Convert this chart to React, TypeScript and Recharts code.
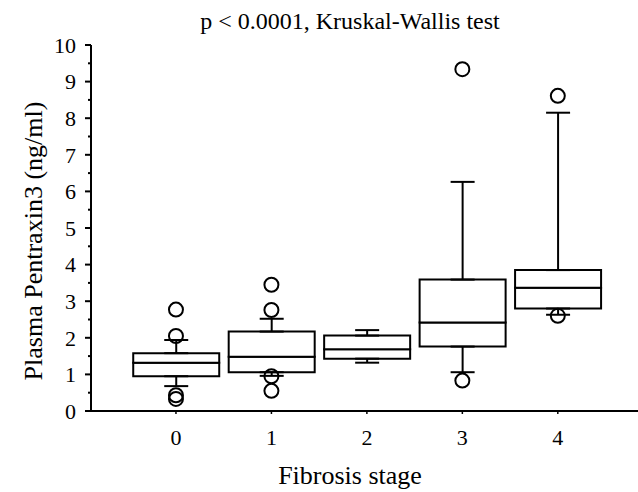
import { ComposedChart, Bar, ErrorBar, Scatter, XAxis, YAxis } from "recharts";

const stages = [0, 1, 2, 3, 4];
const mins = [0.68, 0.96, 1.32, 1.06, 2.63];
const q1s = [0.95, 1.06, 1.43, 1.76, 2.8];
const medians = [1.32, 1.48, 1.69, 2.42, 3.37];
const q3s = [1.58, 2.17, 2.06, 3.59, 3.85];
const maxs = [1.94, 2.52, 2.21, 6.26, 8.15];

const outlierStages = [0, 0, 0, 0, 1, 1, 1, 1, 3, 3, 4, 4];
const outlierValues = [2.77, 2.05, 0.43, 0.33, 3.45, 2.76, 0.95, 0.55, 9.34, 0.83, 8.61, 2.6];

const xTicks = [0, 1, 2, 3, 4];
const yTicks = [0, 0.5, 1, 1.5, 2, 2.5, 3, 3.5, 4, 4.5, 5, 5.5, 6, 6.5, 7, 7.5, 8, 8.5, 9, 9.5, 10];

const FONT = "'Liberation Serif', 'Times New Roman', serif";
const TICK_LEN = 6;
const TICK_GAP = 9;

const boxData = stages.map((s, i) => ({
  stage: s,
  base: q1s[i],
  lower: medians[i] - q1s[i],
  upper: q3s[i] - medians[i],
  lowWhisker: [q1s[i] - mins[i], 0],
  highWhisker: [0, maxs[i] - q3s[i]],
}));

const outliers = outlierStages.map((s, i) => ({ stage: s, value: outlierValues[i] }));

const YTick = (props: any) => {
  const { x, y, payload } = props;
  const v = payload.value;
  const major = Number.isInteger(v);
  const axisX = x + TICK_GAP + TICK_LEN;
  return (
    <g>
      <line x1={axisX - (major ? TICK_LEN : 3)} x2={axisX} y1={y} y2={y} stroke="#000" strokeWidth={2} />
      {major && (
        <text x={x} y={y} dy="0.35em" textAnchor="end" fontFamily={FONT} fontSize={22} fill="#000">
          {v}
        </text>
      )}
    </g>
  );
};

const Circle = (props: any) => (
  <circle cx={props.cx} cy={props.cy} r={7} fill="none" stroke="#000" strokeWidth={2} />
);

export default function App() {
  return (
    <div style={{ position: "absolute", left: 0, top: 0, background: "#fff" }}>
      <ComposedChart
        width={638}
        height={492}
        data={boxData}
        margin={{ top: 45, right: 0, bottom: 0, left: 0 }}
      >
        <XAxis
          type="number"
          dataKey="stage"
          domain={[-0.89, 4.84]}
          allowDataOverflow
          ticks={xTicks}
          interval={0}
          height={81}
          tickSize={3}
          tickMargin={15}
          axisLine={{ stroke: "#000", strokeWidth: 2 }}
          tickLine={{ stroke: "#000", strokeWidth: 1.5 }}
          tick={{ fill: "#000", fontSize: 22, fontFamily: FONT }}
        />
        <YAxis
          type="number"
          domain={[0, 10]}
          allowDataOverflow
          ticks={yTicks}
          interval={0}
          width={91}
          tickSize={TICK_LEN}
          tickMargin={TICK_GAP}
          axisLine={{ stroke: "#000", strokeWidth: 2 }}
          tickLine={false}
          tick={<YTick />}
        />
        <Bar dataKey="base" stackId="box" fill="none" stroke="none" barSize={86} isAnimationActive={false}>
          <ErrorBar dataKey="lowWhisker" width={12} stroke="#000" strokeWidth={2} direction="y" isAnimationActive={false} />
        </Bar>
        <Bar dataKey="lower" stackId="box" fill="#fff" stroke="#000" strokeWidth={2} barSize={86} isAnimationActive={false} />
        <Bar dataKey="upper" stackId="box" fill="#fff" stroke="#000" strokeWidth={2} barSize={86} isAnimationActive={false}>
          <ErrorBar dataKey="highWhisker" width={12} stroke="#000" strokeWidth={2} direction="y" isAnimationActive={false} />
        </Bar>
        <Scatter data={outliers} dataKey="value" shape={<Circle />} isAnimationActive={false} />
        <text x={350} y={29} textAnchor="middle" fontFamily={FONT} fontSize={24} fill="#000">
          p &lt; 0.0001, Kruskal-Wallis test
        </text>
        <text x={350} y={484} textAnchor="middle" fontFamily={FONT} fontSize={26} fill="#000">
          Fibrosis stage
        </text>
        <text
          x={42}
          y={241}
          textAnchor="middle"
          transform="rotate(-90, 42, 241)"
          fontFamily={FONT}
          fontSize={26}
          fill="#000"
        >
          Plasma Pentraxin3 (ng/ml)
        </text>
      </ComposedChart>
    </div>
  );
}
